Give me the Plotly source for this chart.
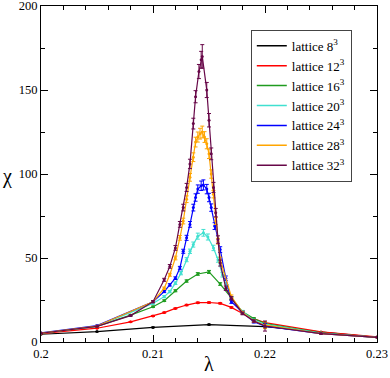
import plotly.graph_objects as go

# lattice 8^3
lam_8 = [0.200, 0.205, 0.210, 0.215, 0.220, 0.225, 0.230]
chi_8 = [4.6, 6.2, 8.7, 10.4, 9.2, 5.8, 2.8]
err_8 = [0.1, 0.1, 0.2, 0.2, 0.2, 0.1, 0.1]

# lattice 12^3
lam_12 = [0.200, 0.205, 0.208, 0.210, 0.211, 0.212, 0.213, 0.214, 0.215, 0.216,
          0.217, 0.218, 0.219, 0.220, 0.225, 0.230]
chi_12 = [5.0, 8.2, 12.0, 15.5, 17.5, 20.0, 22.0, 23.4, 23.5, 23.0,
          20.6, 17.0, 13.8, 11.5, 6.0, 3.0]
err_12 = [0.1, 0.2, 0.2, 0.3, 0.3, 0.3, 0.4, 0.4, 0.4, 0.4,
          0.4, 0.4, 0.3, 0.3, 0.2, 0.1]

# lattice 16^3
lam_16 = [0.200, 0.205, 0.208, 0.210, 0.211, 0.212, 0.213, 0.214, 0.215, 0.216,
          0.217, 0.218, 0.219, 0.220, 0.225, 0.230]
chi_16 = [5.2, 9.3, 16.0, 21.0, 24.6, 30.5, 36.3, 40.5, 41.7, 34.5,
          26.0, 18.0, 14.0, 11.0, 5.5, 2.8]
err_16 = [0.1, 0.2, 0.3, 0.4, 0.5, 0.6, 0.7, 0.8, 0.9, 0.8,
          0.7, 0.6, 0.5, 0.5, 0.2, 0.1]

# lattice 20^3
lam_20 = [0.200, 0.205, 0.210, 0.211, 0.2115, 0.212, 0.2125, 0.213, 0.2133, 0.2136,
          0.214, 0.2145, 0.2149, 0.2154, 0.2158, 0.2162, 0.2166, 0.217, 0.218, 0.219,
          0.220, 0.225, 0.230]
chi_20 = [5.3, 9.5, 23.0, 27.0, 30.0, 35.0, 41.0, 49.0, 54.0, 58.0,
          63.0, 65.0, 62.5, 56.0, 49.0, 40.0, 33.0, 26.0, 18.0, 13.0,
          10.5, 5.3, 2.8]
err_20 = [0.1, 0.2, 0.5, 0.6, 0.7, 0.8, 1.0, 1.2, 1.3, 1.5,
          1.8, 2.0, 1.8, 1.6, 1.5, 1.3, 1.1, 1.0, 0.8, 0.6,
          0.6, 0.2, 0.1]

# lattice 24^3
lam_24 = [0.200, 0.205, 0.210, 0.211, 0.2115, 0.212, 0.2124, 0.2127, 0.213, 0.2133,
          0.2136, 0.2138, 0.214, 0.2143, 0.2145, 0.2148, 0.215, 0.2152, 0.2155, 0.216,
          0.2165, 0.217, 0.218, 0.219, 0.220, 0.225, 0.230]
chi_24 = [5.5, 9.8, 24.0, 30.0, 34.0, 38.0, 44.0, 54.0, 62.0, 70.0,
          80.0, 86.0, 91.0, 93.0, 93.5, 91.0, 86.0, 80.0, 69.0, 55.0,
          38.0, 24.0, 17.5, 12.0, 9.5, 5.0, 2.8]
err_24 = [0.1, 0.2, 0.5, 0.6, 0.7, 0.8, 1.0, 1.2, 1.5, 1.7,
          2.0, 2.2, 2.5, 2.8, 3.0, 2.8, 2.5, 2.2, 2.0, 1.7,
          1.3, 1.0, 0.8, 0.7, 1.5, 0.3, 0.1]

# lattice 28^3
lam_28 = [0.200, 0.205, 0.210, 0.211, 0.2115, 0.212, 0.2124, 0.2127, 0.213, 0.2133,
          0.2136, 0.2138, 0.214, 0.2142, 0.2144, 0.2146, 0.2148, 0.215, 0.2152, 0.2154,
          0.2156, 0.2158, 0.216, 0.217, 0.218, 0.219, 0.220, 0.225, 0.230]
chi_28 = [5.3, 9.5, 24.0, 32.0, 40.0, 50.0, 62.0, 72.0, 85.0, 98.0,
          110.0, 119.0, 122.0, 124.0, 125.0, 122.0, 118.0, 112.0, 100.0, 88.0,
          72.0, 60.0, 49.0, 27.0, 17.5, 12.5, 10.0, 5.0, 2.8]
err_28 = [0.1, 0.2, 0.5, 0.7, 0.9, 1.1, 1.4, 1.7, 2.0, 2.3,
          2.6, 2.9, 3.0, 3.2, 3.5, 3.2, 3.0, 2.8, 2.5, 2.2,
          2.0, 1.7, 1.5, 1.0, 0.8, 0.7, 2.0, 0.3, 0.1]

# lattice 32^3
lam_32 = [0.200, 0.205, 0.208, 0.210, 0.211, 0.2115, 0.212, 0.2124, 0.2127, 0.213,
          0.2133, 0.2136, 0.2138, 0.2141, 0.2143, 0.2144, 0.2148, 0.215, 0.2152, 0.2154,
          0.2156, 0.2158, 0.216, 0.2165, 0.217, 0.218, 0.219, 0.220, 0.225, 0.230]
chi_32 = [5.2, 9.3, 15.7, 24.0, 37.0, 45.0, 56.0, 70.0, 80.0, 92.0,
          106.0, 130.0, 146.0, 161.0, 168.0, 170.0, 150.0, 132.0, 112.0, 92.0,
          77.0, 61.0, 47.0, 32.0, 26.0, 17.0, 12.5, 9.5, 5.0, 2.8]
err_32 = [0.1, 0.2, 0.4, 0.6, 0.9, 1.1, 1.4, 1.7, 2.0, 2.4,
          2.8, 3.2, 3.6, 4.2, 5.0, 7.0, 4.5, 4.0, 3.5, 3.0,
          2.5, 2.2, 1.8, 1.3, 1.0, 0.8, 0.7, 3.0, 0.3, 0.1]

series = [
    ("lattice 8<sup>3</sup>", lam_8, chi_8, err_8, "#000000"),
    ("lattice 12<sup>3</sup>", lam_12, chi_12, err_12, "#ff0000"),
    ("lattice 16<sup>3</sup>", lam_16, chi_16, err_16, "#1f9b1f"),
    ("lattice 20<sup>3</sup>", lam_20, chi_20, err_20, "#40e0d0"),
    ("lattice 24<sup>3</sup>", lam_24, chi_24, err_24, "#0000ff"),
    ("lattice 28<sup>3</sup>", lam_28, chi_28, err_28, "#ffa500"),
    ("lattice 32<sup>3</sup>", lam_32, chi_32, err_32, "#670748"),
]

fig = go.Figure()

for name, lam, chi, err, color in series:
    # data with error bars
    fig.add_trace(go.Scatter(x=lam, y=chi, mode='lines+markers', showlegend=False,
                             line=dict(color=color, width=1.2),
                             marker=dict(color=color, size=3),
                             error_y=dict(type='data', array=err, color=color,
                                          thickness=1, width=2)))
    # legend entry: line only
    fig.add_trace(go.Scatter(x=[None], y=[None], mode='lines', name=name,
                             line=dict(color=color, width=1.5)))

font = "Liberation Serif"

fig.update_layout(
    width=390, height=378,
    margin=dict(l=41, r=13, t=6, b=36, autoexpand=False),
    paper_bgcolor='white', plot_bgcolor='white',
    font=dict(family=font, size=13, color='black'),
    showlegend=True,
    legend=dict(x=0.925, y=0.929, xanchor='right', yanchor='top',
                bgcolor='white', bordercolor='#444', borderwidth=1,
                font=dict(family=font, size=13), tracegroupgap=0,
                itemwidth=30),
    # axis titles as upright text, like the original
    annotations=[
        dict(text='χ', xref='paper', yref='paper', x=-0.101, y=0.494,
             xanchor='center', yanchor='middle',
             showarrow=False, font=dict(family=font, size=20)),
        dict(text='λ', xref='paper', yref='paper', x=0.5, y=-0.066,
             xanchor='center', yanchor='middle',
             showarrow=False, font=dict(family=font, size=20)),
    ],
)

fig.update_xaxes(
    range=[0.2, 0.23], tickvals=[0.2, 0.21, 0.22, 0.23],
    ticktext=['0.2', '0.21', '0.22', '0.23'],
    ticks='inside', ticklen=7, tickcolor='black', showline=True,
    linecolor='black', linewidth=1, mirror='allticks', showgrid=False,
    zeroline=False, automargin=False, ticklabeloverflow='allow',
    tickfont=dict(family=font, size=12.5),
    minor=dict(dtick=0.002, tick0=0.2, ticks='inside', ticklen=4, tickcolor='black'),
)
fig.update_yaxes(
    range=[0, 200], tickvals=[0, 50, 100, 150, 200],
    ticks='inside', ticklen=7, tickcolor='black', showline=True,
    linecolor='black', linewidth=1, mirror='allticks', showgrid=False,
    zeroline=False, automargin=False, ticklabeloverflow='allow',
    tickfont=dict(family=font, size=12.5),
    minor=dict(dtick=25, ticks='inside', ticklen=4, tickcolor='black'),
)

fig.write_html("out.html", config={'displayModeBar': False},
               post_script="document.body.style.margin='0';document.body.style.overflow='hidden';")
